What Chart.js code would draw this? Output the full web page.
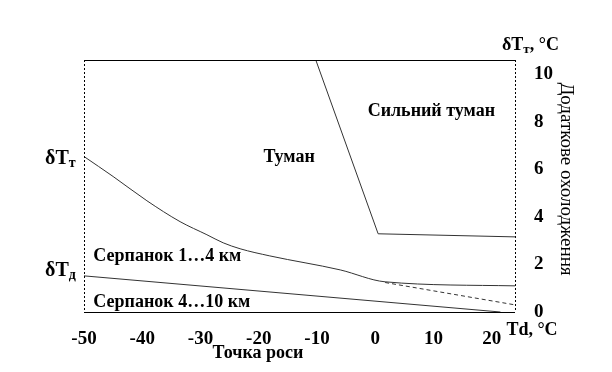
<!DOCTYPE html>
<html>
<head>
<meta charset="utf-8">
<script src="https://cdn.jsdelivr.net/npm/chart.js@4"></script>
<style>
  body { margin: 0; background: #fff; }
</style>
</head>
<body>
<canvas id="chart" width="612" height="372"></canvas>
<script>
const xTicks = [-50, -40, -30, -20, -10, 0, 10, 20];
const yTicks = [0, 2, 4, 6, 8, 10];

// boundary fog / haze 1...4 km
const hazeTopX = [-50, -45, -39.2, -33.5, -28.9, -26.1, -23.2, -18.1, -6, 1.7, 24];
const hazeTopY = [6.54, 5.70, 4.68, 3.80, 3.25, 2.91, 2.66, 2.36, 1.77, 1.27, 1.10];
// boundary strong fog
const fogX = [-10.2, 0.5, 24];
const fogY = [10.6, 3.29, 3.16];
// dashed continuation
const dashX = [1.7, 24];
const dashY = [1.24, 0.30];
// boundary haze 1...4 / 4...10 km
const hazeLowX = [-50, 21.5];
const hazeLowY = [1.52, 0];

const serif = '"Liberation Serif", serif';

function pts(xs, ys) {
    return xs.map((x, i) => ({ x: x, y: ys[i] }));
}

function line(xs, ys, dash, smooth) {
    return {
        data: pts(xs, ys),
        showLine: true,
        borderColor: '#333',
        borderWidth: 1,
        borderDash: dash || [],
        pointRadius: 0,
        cubicInterpolationMode: smooth ? 'monotone' : 'default',
        tension: smooth ? 0.4 : 0
    };
}

// text with subscript, e.g. δTт
function subText(ctx, x, y, main, sub, tail, size) {
    ctx.font = 'bold ' + size + 'px ' + serif;
    ctx.textAlign = 'left';
    ctx.textBaseline = 'alphabetic';
    ctx.fillText(main, x, y);
    let w = ctx.measureText(main).width;
    ctx.font = 'bold ' + Math.round(size * 0.7) + 'px ' + serif;
    ctx.fillText(sub, x + w, y + 3);
    w += ctx.measureText(sub).width;
    if (tail) {
        ctx.font = 'bold ' + size + 'px ' + serif;
        ctx.fillText(tail, x + w, y);
    }
}

const decor = {
    id: 'decor',
    afterDraw(chart) {
        const ctx = chart.ctx;
        const a = chart.chartArea;
        const xs = chart.scales.x;
        const ys = chart.scales.y;
        ctx.save();
        ctx.strokeStyle = '#000';
        ctx.lineWidth = 1;
        // solid top & bottom
        ctx.beginPath();
        ctx.moveTo(a.left, a.top + 0.5); ctx.lineTo(a.right, a.top + 0.5);
        ctx.moveTo(a.left, a.bottom + 0.5); ctx.lineTo(a.right, a.bottom + 0.5);
        ctx.stroke();
        // dotted sides
        ctx.setLineDash([2, 2]);
        ctx.beginPath();
        ctx.moveTo(a.left + 0.5, a.top); ctx.lineTo(a.left + 0.5, a.bottom);
        ctx.moveTo(a.right + 0.5, a.top); ctx.lineTo(a.right + 0.5, a.bottom);
        ctx.stroke();
        ctx.setLineDash([]);

        ctx.fillStyle = '#000';
        ctx.textBaseline = 'middle';
        ctx.textAlign = 'left';
        ctx.font = 'bold 18px ' + serif;
        ctx.fillText('Туман', xs.getPixelForValue(-19.2), ys.getPixelForValue(6.5));
        ctx.fillText('Сильний туман', xs.getPixelForValue(-1.3), ys.getPixelForValue(8.45));
        ctx.fillText('Серпанок 1…4 км', xs.getPixelForValue(-48.4), ys.getPixelForValue(2.35));
        ctx.fillText('Серпанок 4…10 км', xs.getPixelForValue(-48.4), ys.getPixelForValue(0.42));

        subText(ctx, 45, 164, 'δT', 'т', '', 20);
        subText(ctx, 45, 276, 'δT', 'д', '', 20);
        subText(ctx, 502, 50, 'δT', 'т', ', °C', 18);

        ctx.textAlign = 'center';
        ctx.textBaseline = 'top';
        ctx.font = 'bold 18px ' + serif;
        ctx.fillText('Td, °C', 532, a.bottom + 9);
        ctx.fillText('Точка роси', 258, a.bottom + 32);

        ctx.translate(566, 179);
        ctx.rotate(Math.PI / 2);
        ctx.font = '19px ' + serif;
        ctx.textBaseline = 'middle';
        ctx.fillText('Додаткове охолодження', 0, 0);
        ctx.restore();
    }
};

new Chart(document.getElementById('chart'), {
    type: 'scatter',
    data: {
        datasets: [
            line(hazeTopX, hazeTopY, null, true),
            line(fogX, fogY),
            line(dashX, dashY, [4, 3]),
            line(hazeLowX, hazeLowY)
        ]
    },
    options: {
        responsive: false,
        animation: false,
        layout: { padding: { left: 84, top: 60, right: 0, bottom: 0 } },
        plugins: { legend: { display: false }, tooltip: { enabled: false } },
        scales: {
            x: {
                type: 'linear',
                min: -50,
                max: 24,
                afterBuildTicks: s => { s.ticks = xTicks.map(v => ({ value: v })); },
                afterFit: s => { s.height = 60; },
                grid: { display: false },
                border: { display: false },
                ticks: {
                    color: '#000',
                    padding: 8,
                    maxRotation: 0,
                    autoSkip: false,
                    font: { family: serif, size: 19, weight: 'bold' }
                }
            },
            y: {
                type: 'linear',
                position: 'right',
                min: 0,
                max: 10.6,
                afterBuildTicks: s => { s.ticks = yTicks.map(v => ({ value: v })); },
                afterFit: s => { s.width = 97; },
                grid: { display: false },
                border: { display: false },
                ticks: {
                    color: '#000',
                    padding: 11,
                    autoSkip: false,
                    font: { family: serif, size: 19, weight: 'bold' }
                }
            }
        }
    },
    plugins: [decor]
});
</script>
</body>
</html>
